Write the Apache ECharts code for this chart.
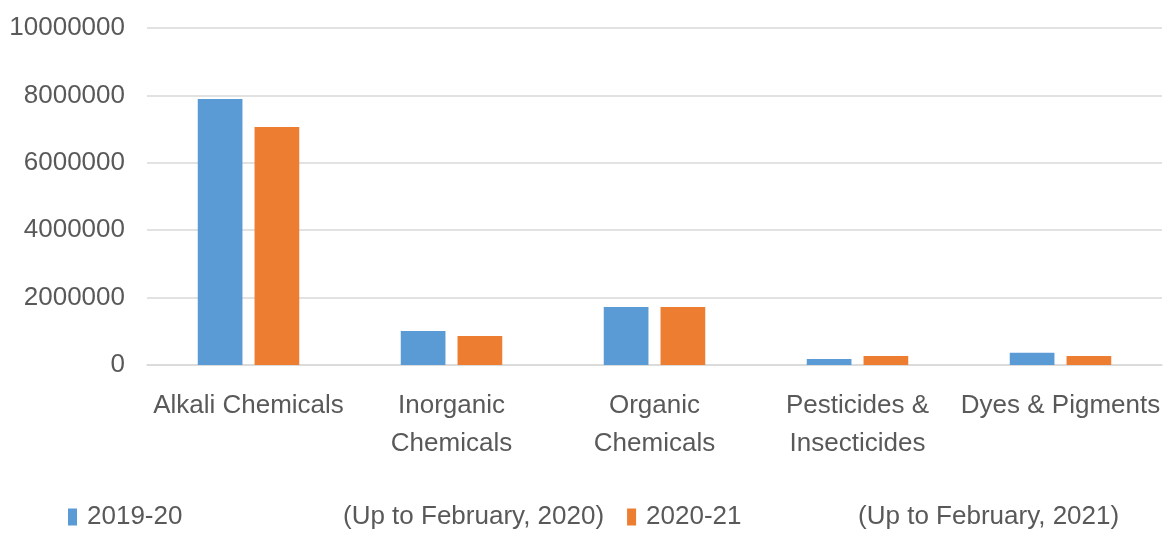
<!DOCTYPE html>
<html>
<head>
<meta charset="utf-8">
<script src="https://cdn.jsdelivr.net/npm/echarts@6/dist/echarts.min.js"></script>
<style>
  html, body { margin: 0; padding: 0; background: #fff; }
  #chart { width: 1173px; height: 537px; }
</style>
</head>
<body>
<div id="chart"></div>
<script>
// categories on the x axis
const categories = [
  'Alkali Chemicals',
  'Inorganic\nChemicals',
  'Organic\nChemicals',
  'Pesticides &\nInsecticides',
  'Dyes & Pigments'
]

// series values
const values2019 = [7890000, 1010000, 1720000, 180000, 360000]
const values2020 = [7060000, 860000, 1720000, 270000, 270000]

// legend labels
const seriesNames = ['2019-20', '2020-21']
const seriesNotes = ['(Up to February, 2020)', '(Up to February, 2021)']

const textColor = '#595959'
const fontFamily = "'Liberation Sans', Arial, sans-serif"

const chart = echarts.init(document.getElementById('chart'))

chart.setOption({
  animation: false,
  color: ['#5B9BD5', '#ED7D31'],
  textStyle: { fontFamily: fontFamily, color: textColor },
  grid: {
    left: 147,
    right: 11,
    top: 28,
    bottom: 172
  },
  legend: {
    left: 63,
    top: 499,
    itemWidth: 9,
    itemHeight: 17,
    itemGap: 23,
    icon: 'rect',
    formatter: function (name) {
      const i = seriesNames.indexOf(name)
      return '{a' + i + '|' + name + '}{b|' + seriesNotes[i] + '}'
    },
    textStyle: {
      color: textColor,
      fontSize: 26,
      fontFamily: fontFamily,
      rich: {
        a0: { width: 256, padding: [0, 0, 0, 5], fontSize: 26, color: textColor, fontFamily: fontFamily },
        a1: { width: 212, padding: [0, 0, 0, 5], fontSize: 26, color: textColor, fontFamily: fontFamily },
        b: { fontSize: 26, color: textColor, fontFamily: fontFamily }
      }
    }
  },
  xAxis: {
    type: 'category',
    data: categories,
    axisTick: { show: false },
    axisLine: { lineStyle: { color: '#d9d9d9', width: 1.5 } },
    axisLabel: {
      color: textColor,
      fontSize: 26,
      lineHeight: 38,
      margin: 22,
      interval: 0
    }
  },
  yAxis: {
    type: 'value',
    min: 0,
    max: 10000000,
    interval: 2000000,
    axisLine: { show: false },
    axisTick: { show: false },
    splitLine: { lineStyle: { color: '#d9d9d9', width: 1.5 } },
    axisLabel: {
      color: textColor,
      fontSize: 26,
      margin: 22,
      formatter: function (v) { return String(v) }
    }
  },
  series: [
    {
      name: seriesNames[0],
      type: 'bar',
      data: values2019,
      barGap: '27%',
      barCategoryGap: '50%'
    },
    {
      name: seriesNames[1],
      type: 'bar',
      data: values2020
    }
  ]
})
</script>
</body>
</html>
